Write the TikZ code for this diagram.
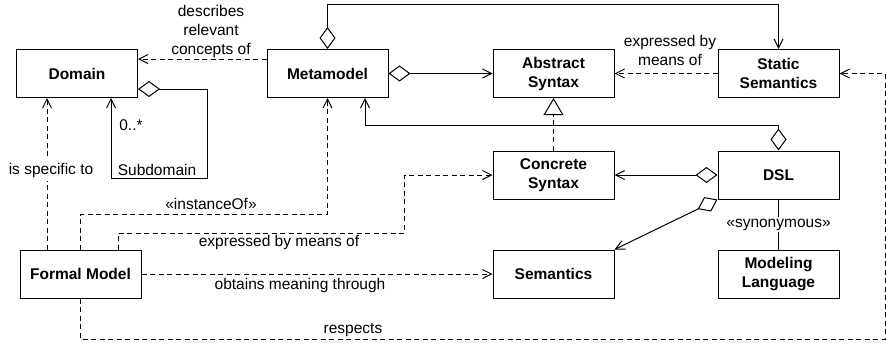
\documentclass[tikz,border=0pt]{standalone}
\usepackage{fontspec}
\setmainfont{Liberation Sans}
\usetikzlibrary{arrows.meta}
\begin{document}
\begin{tikzpicture}[x=1pt,y=-1pt,
  box/.style={draw, line width=1pt, minimum width=121pt, minimum height=48pt, inner sep=0pt, align=center, font=\fontsize{15.5}{19}\selectfont\bfseries},
  lab/.style={inner sep=0pt, align=center, font=\fontsize{15.5}{19}\selectfont},
  conn/.style={line width=1pt},
  dep/.style={conn, dash pattern=on 5pt off 3.5pt},
  opena/.tip={Straight Barb[length=9pt,width=9pt,line width=1pt]},
  dia/.tip={Diamond[open,length=22pt,width=16pt,line width=1pt]},
  tri/.tip={Triangle[open,length=17pt,width=20pt,line width=1pt]},
]
\useasboundingbox (0,0) rectangle (886,343);

% boxes
\node[box] (dom) at (77,73.5) {Domain};
\node[box] (mm) at (327.5,73.5) {Metamodel};
\node[box] (as) at (553.5,73.5) {Abstract\\Syntax};
\node[box] (ss) at (778.5,73.5) {Static\\Semantics};
\node[box] (cs) at (553.5,175) {Concrete\\Syntax};
\node[box] (dsl) at (778.5,175) {DSL};
\node[box] (sem) at (553.5,274) {Semantics};
\node[box] (ml) at (778.5,274) {Modeling\\Language};
\node[box] (fm) at (80.5,274) {Formal Model};

% solid connectors
\draw[conn, dia-opena] (mm.north) -- (mm.north |- 0,4) -| (ss.north);
\draw[conn, dia-opena] (mm.east) -- (as.west);
\draw[conn, dia-opena] (dsl.north) -- (dsl.north |- 0,125) -| (mm.south -| 365,0);
\draw[conn, dia-opena] (dsl.west) -- (cs.east);
\draw[conn, dia-opena] (dsl.south west) -- (sem.north east);
\draw[conn] (dsl.south) -- node[lab, fill=white, inner sep=1.5pt] (lsyn) {«synonymous»} (ml.north);
\draw[conn, dia-opena] (dom.east |- 0,89) -- (207,89) -- (207,178) -- (111,178) -- (dom.south -| 111,0);

% dashed connectors
\draw[dep, -opena] (ss.west) -- (as.east);
\draw[dep, -opena] (mm.west |- 0,59) -- (dom.east |- 0,59);
\draw[dep, -tri] (cs.north) -- (as.south);
\draw[dep, -opena] (fm.north -| 47,0) -- node[lab, fill=white, inner sep=3pt, xshift=4pt, pos=0.52] (lspec) {is specific to} (dom.south -| 47,0);
\draw[dep, -opena] (fm.north) -- (fm.north |- 0,214) -| (mm.south);
\draw[dep, -opena] (fm.north -| 118,0) -- (118,233) -- (404,233) -- (404,175) -- (cs.west);
\draw[dep, -opena] (fm.east) -- (sem.west);
\draw[dep, -opena] (fm.south) -- (fm.south |- 0,339) -- (885,339) -- (885,73.5) -- (ss.east);

% labels
\node[lab, anchor=south] (ldesc) at (211,57.5) {describes\\relevant\\concepts of};
\node[lab, anchor=south] (lexp1) at (670,66) {expressed by\\means of};
\node[lab, anchor=base] (lmult) at (131,130) {0..*};
\node[lab, anchor=base] (lsub) at (157,175) {Subdomain};
\node[lab, anchor=base] (linst) at (211,209) {«instanceOf»};
\node[lab, anchor=base] (lexp2) at (279,246) {expressed by means of};
\node[lab, anchor=base] (lobt) at (300,289) {obtains meaning through};
\node[lab, anchor=base] (lresp) at (353,333) {respects};
\end{tikzpicture}
\end{document}
